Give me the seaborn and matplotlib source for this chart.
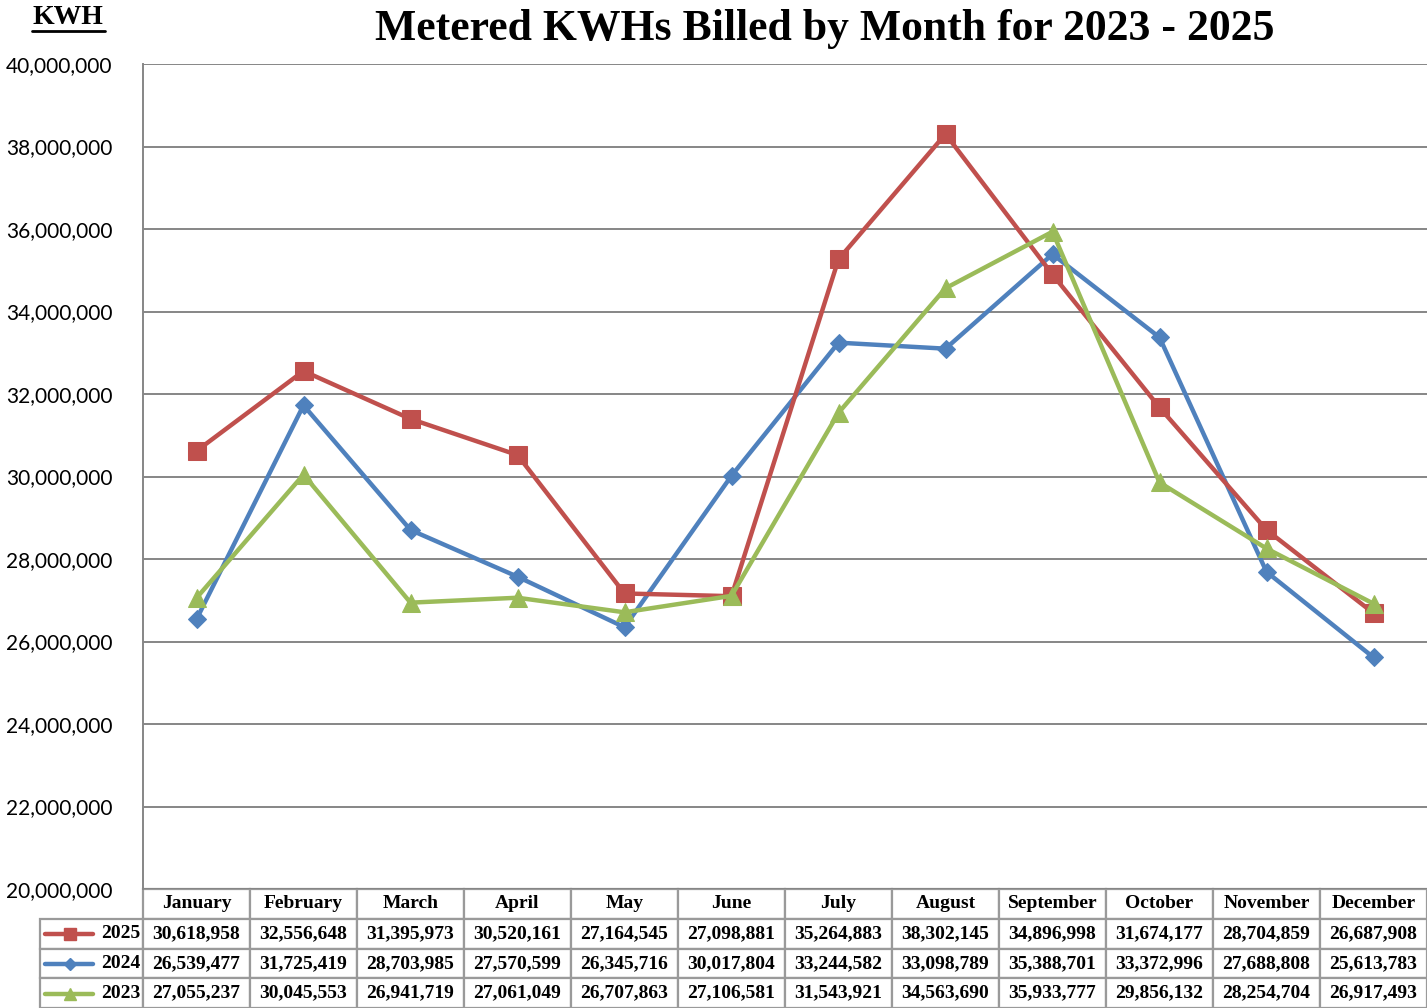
import matplotlib
matplotlib.use('Agg')
import matplotlib.pyplot as plt
import matplotlib.ticker as mticker
from matplotlib.lines import Line2D
import numpy as np
import pandas as pd
import seaborn as sns

months = ['January', 'February', 'March', 'April', 'May', 'June', 'July',
          'August', 'September', 'October', 'November', 'December']
kwh_2025 = [30618958, 32556648, 31395973, 30520161, 27164545, 27098881,
            35264883, 38302145, 34896998, 31674177, 28704859, 26687908]
kwh_2024 = [26539477, 31725419, 28703985, 27570599, 26345716, 30017804,
            33244582, 33098789, 35388701, 33372996, 27688808, 25613783]
kwh_2023 = [27055237, 30045553, 26941719, 27061049, 26707863, 27106581,
            31543921, 34563690, 35933777, 29856132, 28254704, 26917493]
years = ['2025', '2024', '2023']
title = 'Metered KWHs Billed by Month for 2023 - 2025'

series = {'2025': kwh_2025, '2024': kwh_2024, '2023': kwh_2023}
styles = {'2025': ('#C0504D', 's', 13),
          '2024': ('#4F81BD', 'D', 9),
          '2023': ('#9BBB59', '^', 13)}

sns.set_style('white')
plt.rcParams['text.color'] = 'black'
serif = ['Liberation Serif', 'DejaVu Serif']
sans = ['Lato', 'DejaVu Sans']

W, H = 1427, 1008
fig = plt.figure(figsize=(W / 100, H / 100), dpi=100)
ax = fig.add_axes([143 / W, 1 - 889 / H, 1284 / W, 825 / H])

x = np.arange(len(months))
for yr in years:
    color, marker, ms = styles[yr]
    sns.lineplot(x=x, y=series[yr], ax=ax, color=color, linewidth=3.2,
                 marker=marker, markersize=ms, markeredgecolor=color,
                 markerfacecolor=color, zorder=3 if yr == '2024' else 4)

ax.set_xlim(-0.5, 11.5)
ax.set_ylim(20000000, 40000000)
ax.yaxis.set_major_locator(mticker.MultipleLocator(2000000))
ax.yaxis.set_major_formatter(mticker.FuncFormatter(lambda v, p: f'{v:,.0f}'))
ax.set_xticks([])
ax.grid(axis='y', color='#868686', linewidth=1.4)
for s in ['top', 'right', 'bottom']:
    ax.spines[s].set_visible(False)
ax.spines['left'].set_color('#868686')
ax.spines['left'].set_linewidth(1.4)
ax.tick_params(axis='y', direction='out', length=12, width=1.4, color='#868686',
               pad=10, labelsize=15, labelcolor='black')
for lab in ax.get_yticklabels():
    lab.set_family(sans)

# data table under the plot, first column holds the year keys
cell_text = [[yr] + [f'{v:,}' for v in series[yr]] for yr in years]
tbl = ax.table(cellText=cell_text, colLabels=[''] + months, cellLoc='center',
               bbox=[(40 - 143) / 1284, -119 / 825, (W - 40) / 1284, 119 / 825])
tbl.auto_set_font_size(False)
for (r, c), cell in tbl.get_celld().items():
    cell.set_edgecolor('#9A9A9A')
    cell.set_linewidth(1.6)
    cell.set_width(103 if c == 0 else 107)
    cell.set_height(30)
    txt = cell.get_text()
    txt.set_fontsize(14)
    txt.set_fontweight('bold')
    txt.set_family(serif)
    txt.set_color('black')
    if c == 0:
        cell.set_text_props(ha='right')
        cell._loc = 'right'
        cell.PAD = 0.03
    if r == 0 and c == 0:
        cell.visible_edges = ''

# legend keys inside the year cells
row_y = {'2025': 934, '2024': 964, '2023': 994}
for yr in years:
    color, marker, ms = styles[yr]
    yy = (889 - row_y[yr]) / 825
    ax.add_line(Line2D([(45 - 143) / 1284, (93 - 143) / 1284], [yy, yy],
                       transform=ax.transAxes, color=color, linewidth=3.2,
                       clip_on=False))
    ax.add_line(Line2D([(70 - 143) / 1284], [yy], transform=ax.transAxes,
                       marker=marker, markersize=ms * 0.7, color=color,
                       clip_on=False))

fig.text(825 / W, 1 - 29 / H, title, ha='center', va='center', fontsize=31.5,
         fontweight='bold', family=serif, color='black')
fig.text(68 / W, 1 - 18 / H, 'KWH', ha='center', va='center', fontsize=20,
         fontweight='bold', family=serif, color='black')
fig.add_artist(Line2D([32 / W, 105 / W], [1 - 31 / H, 1 - 31 / H],
                      color='black', linewidth=2))

fig.savefig('out.png', dpi=100)
